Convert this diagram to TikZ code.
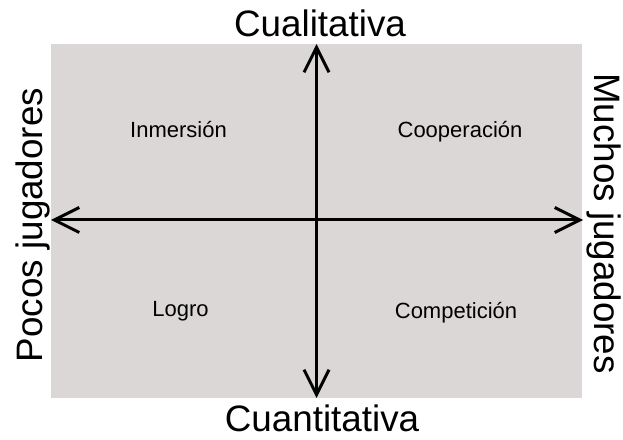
\documentclass[tikz,border=0pt]{standalone}
\usepackage{fontspec}
\setmainfont{Liberation Sans}
\usetikzlibrary{arrows.meta}

\definecolor{fondo}{RGB}{218,215,214}

\tikzset{
	eje/.style={line width=3pt, -{Straight Barb[length=25pt, width=25pt, line width=3pt]}},
	titulo/.style={font=\fontsize{36.8}{40}\selectfont, anchor=base, inner sep=0pt},
	cuadrante/.style={font=\fontsize{22}{26}\selectfont, anchor=base, inner sep=0pt}
}

\begin{document}
\begin{tikzpicture}[x=1pt,y=1pt]
\useasboundingbox (0,0) rectangle (623,439);

%fondo gris
\fill[fondo] (51,41) rectangle (582,395);

%ejes
\coordinate (arriba) at (316.5,395);
\coordinate (abajo) at (316.5,41);
\coordinate (izq) at (51,219);
\coordinate (der) at (583,219);
\coordinate (centro) at (316.5,219);

\draw[eje] (centro) -- (arriba);
\draw[eje] (centro) -- (abajo);
\draw[eje] (centro) -- (izq);
\draw[eje] (centro) -- (der);

%titulos de los ejes
\node[titulo] (cual) at (320,402) {Cualitativa};
\node[titulo] (cuant) at (322,8) {Cuantitativa};
\node[titulo, rotate=90] (pocos) at (42,214) {Pocos jugadores};
\node[titulo, rotate=-90] (muchos) at (594.5,215.5) {Muchos jugadores};

%cuadrantes
\node[cuadrante] (inmersion) at (178.5,301) {Inmersión};
\node[cuadrante] (cooperacion) at (460,301) {Cooperación};
\node[cuadrante] (logro) at (180.5,122) {Logro};
\node[cuadrante] (competicion) at (456,121) {Competición};

\end{tikzpicture}
\end{document}
